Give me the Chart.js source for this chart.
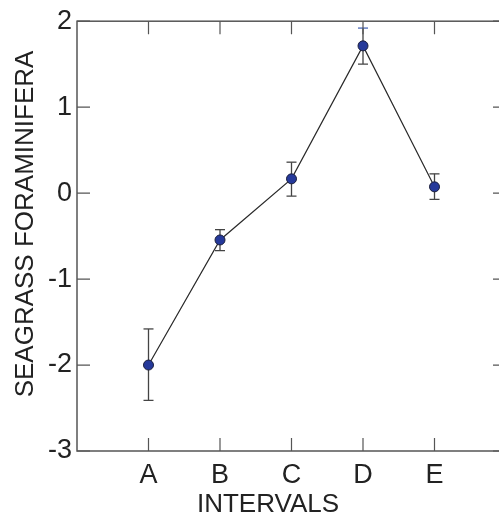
<!DOCTYPE html>
<html>
<head>
<meta charset="utf-8">
<script src="https://cdn.jsdelivr.net/npm/chart.js@4/dist/chart.umd.min.js"></script>
<style>
  html, body { margin:0; padding:0; background:#fff; overflow:hidden; }
  .wrap { position:relative; width:512px; height:523px; }
</style>
</head>
<body>
<div class="wrap"><canvas id="chart"></canvas></div>
<script>
// ── Data ────────────────────────────────────────────────────────────
const intervals  = ['A', 'B', 'C', 'D', 'E'];
const xPos       = [1, 2, 3, 4, 5];
const seagrass   = [-2.0, -0.545, 0.166, 1.713, 0.073];
const errUpper   = [-1.58, -0.425, 0.36, 1.92, 0.224];
const errLower   = [-2.41, -0.67, -0.035, 1.50, -0.073];
const yTicks     = [-3, -2, -1, 0, 1, 2];

const FONT = '"Liberation Sans", Arial, sans-serif';
const INK  = '#222';
const AXIS = '#555';

// error bars, drawn under the points
const errorBars = {
  id: 'errorBars',
  beforeDatasetsDraw(chart) {
    const { ctx, scales: { x, y } } = chart;
    ctx.save();
    ctx.lineWidth = 1.3;
    seagrass.forEach((v, i) => {
      const px = x.getPixelForValue(xPos[i]);
      const top = y.getPixelForValue(errUpper[i]);
      const bot = y.getPixelForValue(errLower[i]);
      ctx.strokeStyle = '#444';
      ctx.beginPath();
      ctx.moveTo(px, top); ctx.lineTo(px, bot);
      ctx.moveTo(px - 5, bot); ctx.lineTo(px + 5, bot);
      ctx.stroke();
      ctx.strokeStyle = i === 3 ? '#4a68b8' : '#444';   // D's upper cap is blue in the original
      ctx.beginPath();
      ctx.moveTo(px - 5, top); ctx.lineTo(px + 5, top);
      ctx.stroke();
    });
    ctx.restore();
  }
};

// closed frame with inward ticks on all four sides
const frame = {
  id: 'frame',
  afterDraw(chart) {
    const { ctx, chartArea: a, scales: { x, y } } = chart;
    const tl = 13;
    ctx.save();
    ctx.strokeStyle = AXIS;
    ctx.lineWidth = 1.5;
    ctx.strokeRect(a.left, a.top, a.right - a.left, a.bottom - a.top);
    ctx.lineWidth = 1.2;
    ctx.beginPath();
    xPos.forEach(v => {
      const px = x.getPixelForValue(v);
      ctx.moveTo(px, a.bottom); ctx.lineTo(px, a.bottom - tl);
      ctx.moveTo(px, a.top);    ctx.lineTo(px, a.top + tl);
    });
    yTicks.forEach(v => {
      const py = y.getPixelForValue(v);
      ctx.moveTo(a.left, py);  ctx.lineTo(a.left + tl, py);
      ctx.moveTo(a.right, py); ctx.lineTo(a.right - tl, py);
    });
    ctx.stroke();

    // axis titles
    ctx.fillStyle = INK;
    ctx.font = '26px ' + FONT;
    ctx.textAlign = 'center';
    ctx.textBaseline = 'middle';
    ctx.fillText('INTERVALS', 268, 505);
    ctx.translate(26, 224);
    ctx.rotate(-Math.PI / 2);
    ctx.fillText('SEAGRASS FORAMINIFERA', 0, 0);
    ctx.restore();
  }
};

new Chart(document.getElementById('chart'), {
  type: 'line',
  data: {
    datasets: [{
      data: xPos.map((v, i) => ({ x: v, y: seagrass[i] })),
      borderColor: '#2a2a2a',
      borderWidth: 1.2,
      pointRadius: 5,
      pointBackgroundColor: '#25399a',
      pointBorderColor: '#1b1f3c',
      pointBorderWidth: 1,
      tension: 0,
    }],
  },
  options: {
    responsive: true, maintainAspectRatio: false,
    animation: false,
    layout: { padding: { top: 20, right: 6, bottom: 0, left: 0 } },
    plugins: { legend: { display: false }, tooltip: { enabled: false } },
    scales: {
      x: {
        type: 'linear', min: 0, max: 6,
        grid: { display: false, drawTicks: false }, border: { display: false },
        afterBuildTicks: s => { s.ticks = xPos.map(v => ({ value: v })); },
        afterFit: s => { s.height = 72; },
        ticks: {
          color: INK, font: { size: 27, family: FONT }, padding: 8,
          maxRotation: 0, autoSkip: false,
          callback: v => intervals[xPos.indexOf(v)] ?? '',
        },
      },
      y: {
        min: -3, max: 2,
        grid: { display: false, drawTicks: false }, border: { display: false },
        afterBuildTicks: s => { s.ticks = yTicks.map(v => ({ value: v })); },
        afterFit: s => { s.width = 77; },
        ticks: { color: INK, font: { size: 27, family: FONT }, padding: 5 },
      },
    },
  },
  plugins: [errorBars, frame],
});
</script>
</body>
</html>
